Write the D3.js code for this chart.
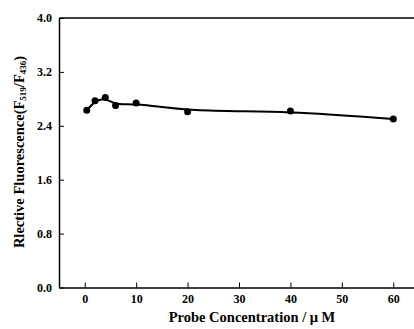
<!DOCTYPE html>
<html>
<head>
<meta charset="utf-8">
<script src="https://cdn.jsdelivr.net/npm/d3@7"></script>
<style>
  body { margin: 0; background: #fff; }
  svg { display: block; font-family: "Liberation Serif", "Times New Roman", serif; font-weight: bold; }
</style>
</head>
<body>
<div class="chart"></div>
<script>
var concentration = [0.4, 2, 4, 6, 10, 20, 40, 60];
var ratio = [2.63, 2.77, 2.82, 2.70, 2.74, 2.61, 2.62, 2.50];
var xTicks = [0, 10, 20, 30, 40, 50, 60];
var yTicks = [0.0, 0.8, 1.6, 2.4, 3.2, 4.0];

var width = 414, height = 329;

var svg = d3.select('.chart')
    .append('svg')
    .attr('width', width)
    .attr('height', height);

var xScale = d3.scaleLinear()
    .domain([-5, 65])
    .range([59, 419]);

var yScale = d3.scaleLinear()
    .domain([0, 4])
    .range([287.5, 18]);

var xAxis = d3.axisBottom(xScale)
    .tickValues(xTicks)
    .tickSize(-5)
    .tickPadding(7)
    .tickSizeOuter(0)
    .tickFormat(d3.format('d'));

var yAxis = d3.axisLeft(yScale)
    .tickValues(yTicks)
    .tickSize(-5)
    .tickPadding(7)
    .tickSizeOuter(0)
    .tickFormat(d3.format('.1f'));

var gx = svg.append('g')
    .attr('transform', 'translate(0,' + yScale(0) + ')')
    .call(xAxis);

var gy = svg.append('g')
    .attr('transform', 'translate(' + xScale(-5) + ',0)')
    .call(yAxis);

[gx, gy].forEach(function (g) {
    g.select('.domain').attr('stroke', '#000').attr('stroke-width', 1.5);
    g.selectAll('.tick line').attr('stroke', '#000').attr('stroke-width', 1);
    g.selectAll('.tick text')
        .attr('fill', '#000')
        .style('font-family', '"Liberation Serif", serif')
        .style('font-weight', 'bold')
        .style('font-size', '12px');
});

// top frame line
svg.append('line')
    .attr('x1', xScale(-5))
    .attr('x2', xScale(65))
    .attr('y1', yScale(4))
    .attr('y2', yScale(4))
    .attr('stroke', '#000')
    .attr('stroke-width', 1.5);

var points = concentration.map(function (c, i) {
    return { x: c, y: ratio[i] };
});

var line = d3.line()
    .x(function (d) { return xScale(d.x); })
    .y(function (d) { return yScale(d.y); })
    .curve(d3.curveBasis);

svg.append('path')
    .datum(points)
    .attr('d', line)
    .attr('fill', 'none')
    .attr('stroke', '#000')
    .attr('stroke-width', 2);

svg.selectAll('circle')
    .data(points)
    .enter()
    .append('circle')
    .attr('cx', function (d) { return xScale(d.x); })
    .attr('cy', function (d) { return yScale(d.y); })
    .attr('r', 3.5)
    .attr('fill', '#000');

svg.append('text')
    .attr('x', 252)
    .attr('y', 322)
    .attr('text-anchor', 'middle')
    .style('font-size', '14.5px')
    .text('Probe Concentration / μ M');

var yl = svg.append('text')
    .attr('transform', 'translate(24,152) rotate(-90)')
    .attr('text-anchor', 'middle')
    .style('font-size', '14.5px');
yl.append('tspan').text('Rlective Fluorescence(F');
yl.append('tspan').attr('baseline-shift', '-25%').style('font-size', '9px').text('519');
yl.append('tspan').text('/F');
yl.append('tspan').attr('baseline-shift', '-25%').style('font-size', '9px').text('436');
yl.append('tspan').text(')');
</script>
</body>
</html>
